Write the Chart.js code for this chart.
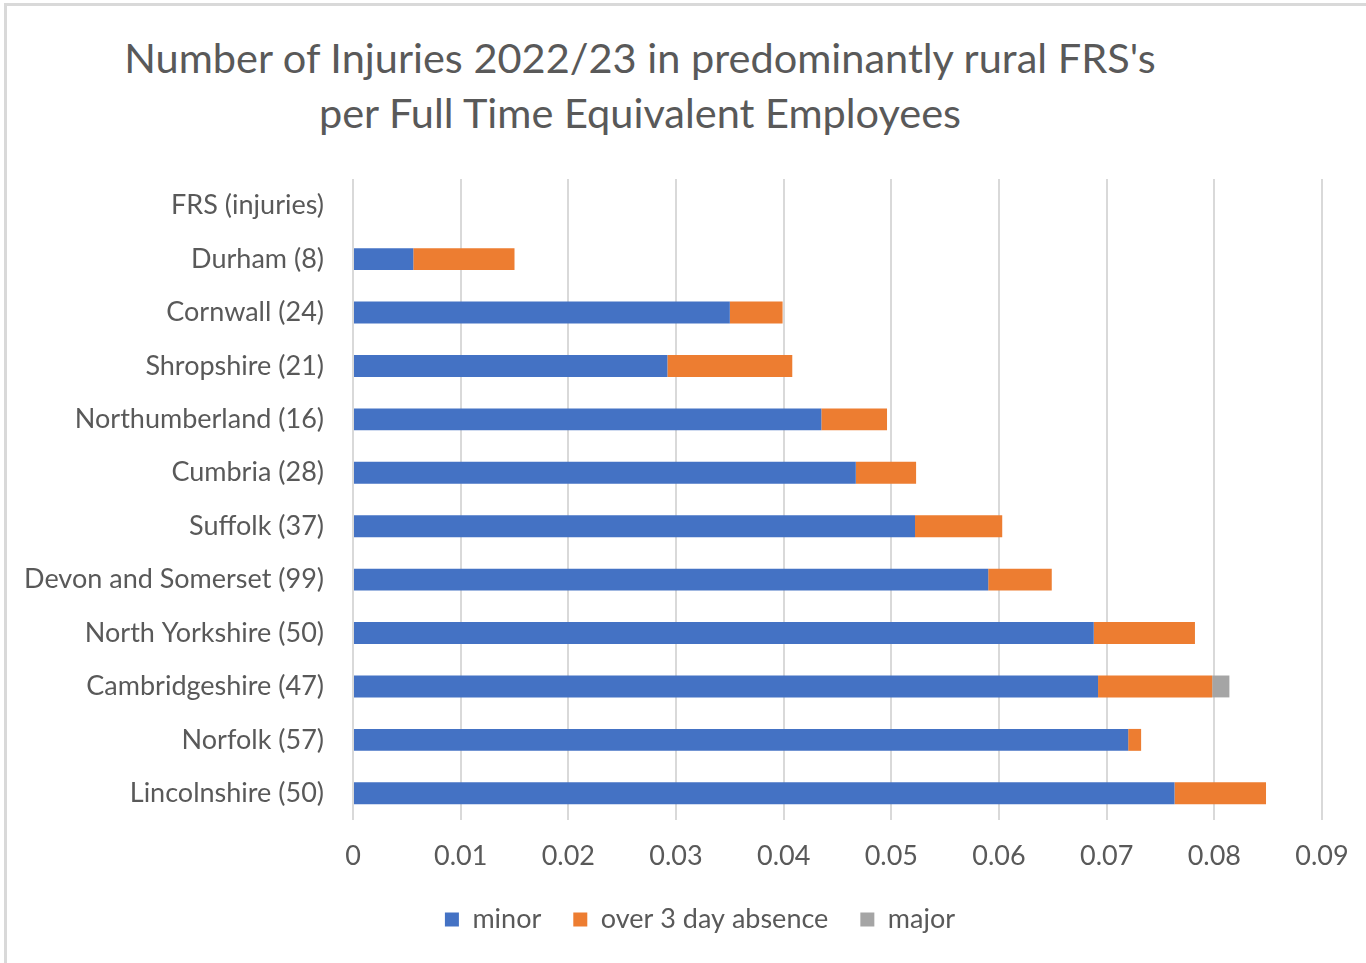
<!DOCTYPE html>
<html>
<head>
<meta charset="utf-8">
<title>Injuries per FTE</title>
<script src="https://cdn.jsdelivr.net/npm/chart.js@4"></script>
<style>
  html, body { margin:0; padding:0; background:#fff; overflow:hidden; }
  .frame { position:absolute; left:4px; top:3px; width:2000px; height:2000px; border:3px solid #d9d9d9; }
  .title { position:absolute; left:0; width:1280px; top:30px; text-align:center;
           font-family:Lato, sans-serif; font-size:41.5px; line-height:55px; color:#595959; }
  canvas { position:absolute; left:0; top:0; }
</style>
</head>
<body>
<div class="frame"></div>
<div class="title">Number of Injuries 2022/23 in predominantly rural FRS's<br>per Full Time Equivalent Employees</div>
<canvas id="injuryChart" width="1366" height="963"></canvas>
<script>
/* data */
const categories = ['FRS (injuries)','Durham (8)','Cornwall (24)','Shropshire (21)','Northumberland (16)',
  'Cumbria (28)','Suffolk (37)','Devon and Somerset (99)','North Yorkshire (50)','Cambridgeshire (47)',
  'Norfolk (57)','Lincolnshire (50)'];
const minor   = [null, 0.0056, 0.0350, 0.0292, 0.0435, 0.0467, 0.0522, 0.0590, 0.0688, 0.0692, 0.0720, 0.0763];
const over3   = [null, 0.0094, 0.0049, 0.0116, 0.0061, 0.0056, 0.0081, 0.0059, 0.0094, 0.0106, 0.0012, 0.0085];
const major   = [null, null, null, null, null, null, null, null, null, 0.0016, null, null];
const xTicks  = [0, 0.01, 0.02, 0.03, 0.04, 0.05, 0.06, 0.07, 0.08, 0.09];

const txt = '#595959';
const font = { family: 'Lato, sans-serif', size: 27 };

/* legend sits a bit right of the canvas centre in the original */
const legendShift = {
  id: 'legendShift',
  afterLayout(chart) {
    if (!chart.legend) return;
    chart.legend.left += 39;
    chart.legend.right += 39;
  }
};

function renderInjuryChart() {
  const ctx = document.getElementById('injuryChart');
  new Chart(ctx, {
    type: 'bar',
    data: {
      labels: categories,
      datasets: [
        { label: 'minor', data: minor, backgroundColor: '#4472c4' },
        { label: 'over 3 day absence', data: over3, backgroundColor: '#ed7d31' },
        { label: 'major', data: major, backgroundColor: '#a5a5a5' }
      ]
    },
    plugins: [legendShift],
    options: {
      indexAxis: 'y',
      responsive: false,
      animation: false,
      categoryPercentage: 1,
      barPercentage: 0.41,
      layout: { padding: { top: 179, left: 0, right: 44, bottom: 20 } },
      scales: {
        x: {
          stacked: true,
          min: xTicks[0], max: xTicks[xTicks.length - 1],
          afterBuildTicks: s => { s.ticks = xTicks.map(v => ({ value: v })); },
          afterFit: s => { s.height = 54; s.paddingLeft = 0; s.paddingRight = 0; },
          grid: { color: '#d9d9d9', lineWidth: 2, drawTicks: false },
          border: { display: false },
          ticks: { color: txt, font: font, padding: 20, callback: v => String(+v.toFixed(2)) }
        },
        y: {
          stacked: true,
          afterFit: s => { s.width = 353; },
          grid: { display: false, drawTicks: false },
          border: { display: false },
          ticks: { color: txt, font: font, padding: 29 }
        }
      },
      plugins: {
        legend: {
          position: 'bottom',
          labels: { color: txt, font: font, boxWidth: 14, boxHeight: 14, padding: 32 }
        },
        tooltip: { enabled: false }
      }
    }
  });
}

document.addEventListener('DOMContentLoaded', function(){
  if (typeof Chart !== 'undefined') renderInjuryChart();
});
</script>
</body>
</html>
